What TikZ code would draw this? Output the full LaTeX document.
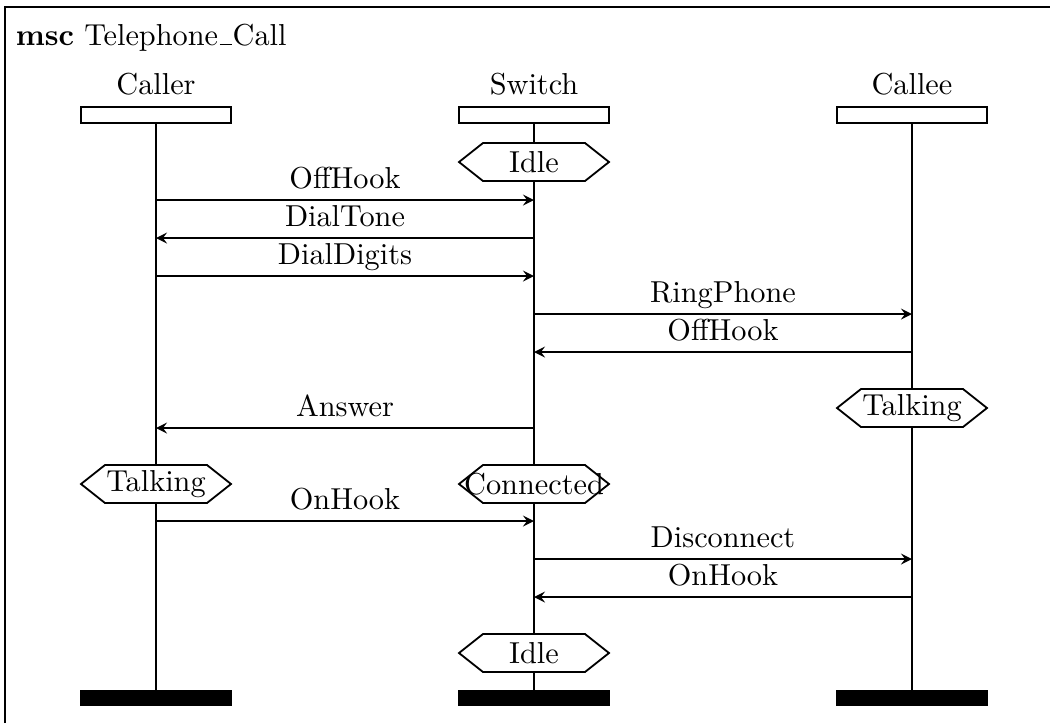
\documentclass[tikz,border=0pt]{standalone}
\usetikzlibrary{calc}

\newcommand{\cond}[4] % name, x, y, text
{
	% condition hexagon
	\draw[fill=white] (#2-75,#3) -- (#2-51,#3-19) -- (#2+51,#3-19) -- (#2+75,#3) -- (#2+51,#3+19) -- (#2-51,#3+19) -- cycle;
	\node (#1) at (#2,#3) {#4};
}
\newcommand{\mess}[5] % name, from x, to x, y, label
{
	\coordinate (#1s) at (#2,#4);
	\coordinate (#1e) at (#3,#4);
	\draw[->] (#1s) -- (#1e);
	\node[anchor=base] (#1l) at ({(#2+#3)/2},#4-12) {#5};
}
\newcommand{\inst}[3] % name, x, label
{
	\node[anchor=base] (#1name) at (#2,94) {#3};
	\node[draw, minimum width=150*0.0116cm, minimum height=16*0.0116cm, inner sep=0pt] (#1head) at (#2,115) {};
	\node[draw, fill=black, minimum width=150*0.0116cm, minimum height=15*0.0116cm, inner sep=0pt] (#1foot) at (#2,698) {};
	\draw (#1head.south) -- (#1foot.north);
}
\newcommand{\uscore}{\leavevmode\kern.06em\vbox{\hrule width.4em}\kern.02em}

\begin{document}
\begin{tikzpicture}[x=0.0116cm, y=-0.0116cm, line width=0.6pt, >=stealth]
	\useasboundingbox (0,0) rectangle (1050,723);
	% frame (runs off the page at right and bottom) and title
	\draw (5,723) -- (5,7) -- (1050,7);
	\node[anchor=base west, inner sep=0pt] (title) at (15,45) {\textbf{msc} Telephone\uscore Call};
	
	% instances
	\inst{caller}{156}{Caller};
	\inst{switch}{534}{Switch};
	\inst{callee}{912}{Callee};
	
	\cond{idleA}{534}{162}{Idle};
	
	\mess{mA}{156}{534}{200}{OffHook};
	\mess{mB}{534}{156}{238}{DialTone};
	\mess{mC}{156}{534}{276}{DialDigits};
	\mess{mD}{534}{912}{314}{RingPhone};
	\mess{mE}{912}{534}{352}{OffHook};
	
	\cond{talkB}{912}{408}{Talking};
	
	\mess{mF}{534}{156}{428}{Answer};
	
	\cond{talkA}{156}{484}{Talking};
	\cond{conn}{534}{484}{Connected};
	
	\mess{mG}{156}{534}{521}{OnHook};
	\mess{mH}{534}{912}{559}{Disconnect};
	\mess{mI}{912}{534}{597}{OnHook};
	
	\cond{idleB}{534}{653}{Idle};
\end{tikzpicture}
\end{document}
